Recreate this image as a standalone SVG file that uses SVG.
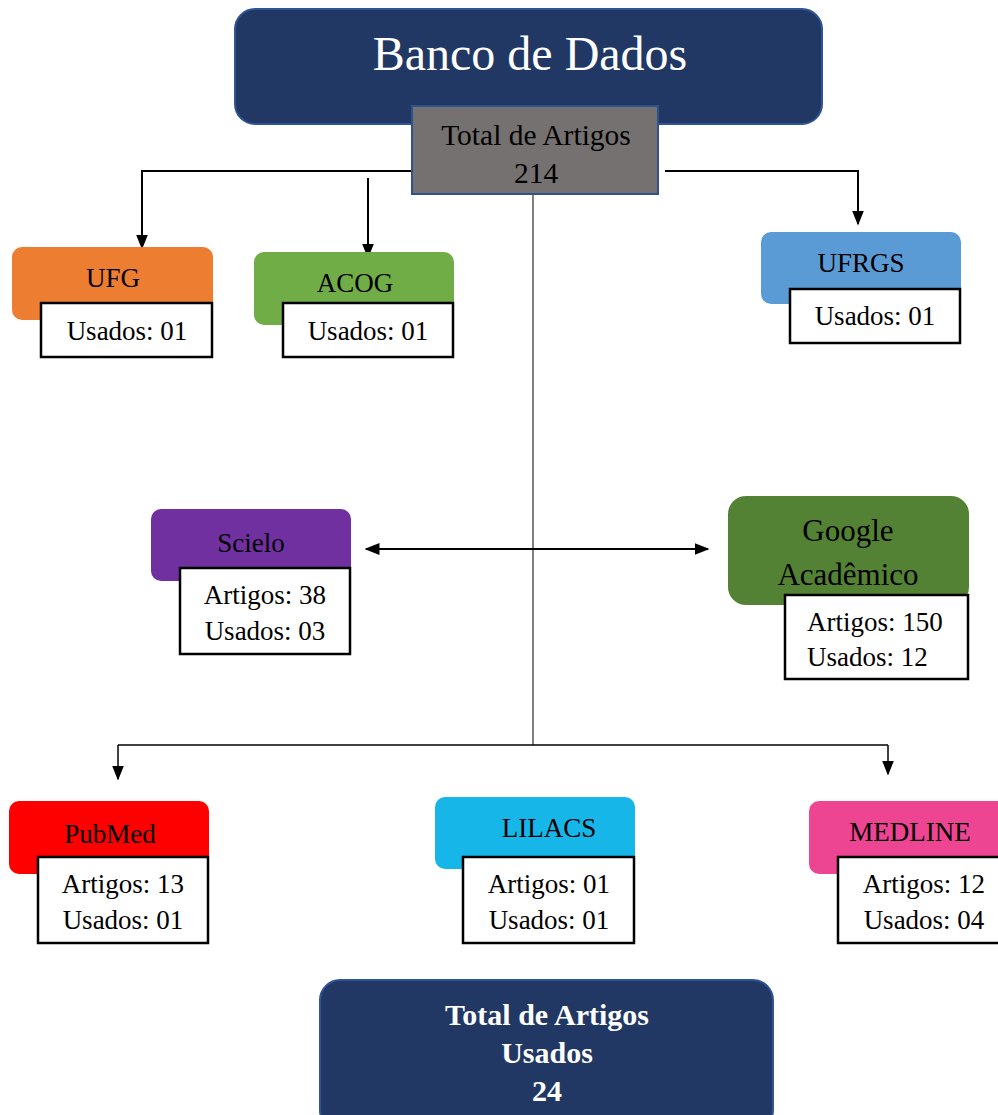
<svg xmlns="http://www.w3.org/2000/svg" width="998" height="1115" viewBox="0 0 998 1115">
<style>
text{font-family:"Liberation Serif","Times New Roman",serif;text-anchor:middle;fill:#000}
.t{font-size:27px}
.w{fill:#fff}
.box{fill:#fff;stroke:#000;stroke-width:2.5}
.hdr{stroke:none}
.ln{fill:none;stroke:#000;stroke-width:2}
.thin{fill:none;stroke:#000;stroke-width:1}
.navy{fill:#213864;stroke:#2f5597;stroke-width:2}
</style>
<defs>
<marker id="ah2" viewBox="0 0 10 10" refX="9" refY="5" markerWidth="15" markerHeight="15" markerUnits="userSpaceOnUse" orient="auto-start-reverse">
<path d="M0,1 L10,5 L0,9 z" fill="#000"/>
</marker>
</defs>

<g id="banco">
<rect class="navy" x="235" y="9" width="587" height="115" rx="20"/>
<text class="w" x="530" y="70" style="font-size:48px">Banco de Dados</text>
</g>

<g id="connectors">
<polyline class="ln" points="412,171 142,171 142,248" marker-end="url(#ah2)"/>
<line class="ln" x1="368" y1="178" x2="368" y2="257" marker-end="url(#ah2)"/>
<polyline class="ln" points="665,171 858,171 858,224" marker-end="url(#ah2)"/>
<line class="thin" x1="533" y1="194" x2="533" y2="745"/>
<polyline class="thin" points="118,745 888,745" style="stroke-width:1.5"/>
<line class="ln" x1="118" y1="745" x2="118" y2="779" style="stroke-width:1.5" marker-end="url(#ah2)"/>
<line class="ln" x1="888" y1="745" x2="888" y2="774" style="stroke-width:1.5" marker-end="url(#ah2)"/>
<line class="ln" x1="366" y1="549" x2="708" y2="549" marker-start="url(#ah2)" marker-end="url(#ah2)"/>
</g>

<g id="total">
<rect x="412" y="106" width="246" height="88" fill="#767171" stroke="#2f528f" stroke-width="2"/>
<text x="536" y="145" style="font-size:29.5px">Total de Artigos</text>
<text x="536" y="183" style="font-size:29.5px">214</text>
</g>

<g id="ufg">
<rect class="hdr" x="12" y="247" width="201" height="73" rx="10" fill="#ed7d31"/>
<text class="t" x="113" y="287">UFG</text>
<rect class="box" x="41" y="303" width="171" height="54"/>
<text class="t" x="127" y="340">Usados: 01</text>
</g>

<g id="acog">
<rect class="hdr" x="254" y="252" width="200" height="73" rx="10" fill="#70ad47"/>
<text class="t" x="355" y="292">ACOG</text>
<rect class="box" x="283" y="303" width="170" height="54"/>
<text class="t" x="368" y="340">Usados: 01</text>
</g>

<g id="ufrgs">
<rect class="hdr" x="761" y="232" width="200" height="72" rx="10" fill="#5b9bd5"/>
<text class="t" x="861" y="272">UFRGS</text>
<rect class="box" x="790" y="289" width="170" height="54"/>
<text class="t" x="875" y="325">Usados: 01</text>
</g>

<g id="scielo">
<rect class="hdr" x="151" y="509" width="200" height="72" rx="10" fill="#7030a0"/>
<text class="t" x="251" y="552">Scielo</text>
<rect class="box" x="180" y="568" width="170" height="86"/>
<text class="t" x="265" y="604">Artigos: 38</text>
<text class="t" x="265" y="640">Usados: 03</text>
</g>

<g id="google">
<rect class="hdr" x="728" y="496" width="241" height="109" rx="18" fill="#548235"/>
<text x="848" y="541" style="font-size:31px">Google</text>
<text x="848" y="585" style="font-size:31px">Acadêmico</text>
<rect class="box" x="785" y="595" width="183" height="84"/>
<text class="t" x="807" y="631" style="text-anchor:start">Artigos: 150</text>
<text class="t" x="807" y="666" style="text-anchor:start">Usados: 12</text>
</g>

<g id="pubmed">
<rect class="hdr" x="9" y="801" width="200" height="73" rx="10" fill="#ff0000"/>
<text class="t" x="110" y="843">PubMed</text>
<rect class="box" x="38" y="857" width="170" height="86"/>
<text class="t" x="123" y="893">Artigos: 13</text>
<text class="t" x="123" y="929">Usados: 01</text>
</g>

<g id="lilacs">
<rect class="hdr" x="435" y="797" width="200" height="72" rx="10" fill="#17b6e8"/>
<text class="t" x="549" y="837">LILACS</text>
<rect class="box" x="463" y="857" width="171" height="86"/>
<text class="t" x="549" y="893">Artigos: 01</text>
<text class="t" x="549" y="929">Usados: 01</text>
</g>

<g id="medline">
<rect class="hdr" x="809" y="801" width="200" height="73" rx="10" fill="#ee4592"/>
<text class="t" x="910" y="841">MEDLINE</text>
<rect class="box" x="838" y="857" width="170" height="86"/>
<text class="t" x="924" y="893">Artigos: 12</text>
<text class="t" x="924" y="929">Usados: 04</text>
</g>

<g id="totalusados">
<rect class="navy" x="320" y="980" width="453" height="150" rx="20"/>
<text class="w" x="547" y="1025" style="font-size:30px;font-weight:bold">Total de Artigos</text>
<text class="w" x="547" y="1063" style="font-size:30px;font-weight:bold">Usados</text>
<text class="w" x="547" y="1101" style="font-size:30px;font-weight:bold">24</text>
</g>
</svg>
